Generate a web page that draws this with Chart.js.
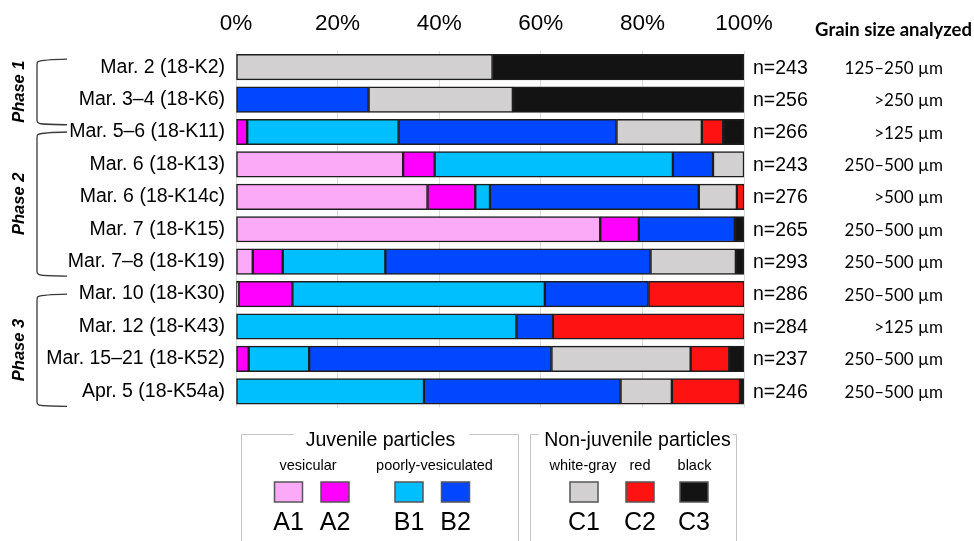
<!DOCTYPE html>
<html>
<head>
<meta charset="utf-8">
<script src="https://cdn.jsdelivr.net/npm/chart.js@4/dist/chart.umd.min.js"></script>
<style>
  html, body { margin: 0; padding: 0; background: #fff; }
  #wrap { width: 974px; height: 541px; }
</style>
</head>
<body>
<div id="wrap"><canvas id="c" width="974" height="541"></canvas></div>
<script>
// Samples (eruption dates and sample IDs)
const categories = [
  'Mar. 2 (18-K2)', 'Mar. 3–4 (18-K6)', 'Mar. 5–6 (18-K11)', 'Mar. 6 (18-K13)',
  'Mar. 6 (18-K14c)', 'Mar. 7 (18-K15)', 'Mar. 7–8 (18-K19)', 'Mar. 10 (18-K30)',
  'Mar. 12 (18-K43)', 'Mar. 15–21 (18-K52)', 'Apr. 5 (18-K54a)'
];
// Particle counts and analyzed size fraction per sample
const counts = [243, 256, 266, 243, 276, 265, 293, 286, 284, 237, 246];
const grainSizes = ['125–250 µm', '>250 µm', '>125 µm', '250–500 µm', '>500 µm', '250–500 µm',
  '250–500 µm', '250–500 µm', '>125 µm', '250–500 µm', '250–500 µm'];

// Component proportions (%)
const A1 = [0, 0, 0, 32.9, 37.7, 71.7, 3.3, 0.5, 0, 0, 0];
const A2 = [0, 0, 2.2, 6.2, 9.4, 7.6, 5.9, 10.6, 0, 2.5, 0];
const B1 = [0, 0, 29.8, 46.9, 2.9, 0, 20.2, 49.7, 55.2, 11.9, 37.0];
const B2 = [0, 26.1, 42.9, 7.9, 41.1, 18.9, 52.2, 20.4, 7.2, 47.7, 38.7];
const C1 = [50.5, 28.4, 16.8, 6.1, 7.5, 0, 16.8, 0, 0, 27.4, 10.1];
const C2 = [0, 0, 4.2, 0, 1.4, 0, 0, 18.8, 37.6, 7.6, 13.4];
const C3 = [49.5, 45.5, 4.1, 0, 0, 1.8, 1.6, 0, 0, 2.9, 0.8];

const xTicks = [0, 20, 40, 60, 80, 100];

// Eruption phases: first and last sample index of each
const phases = [
  { label: 'Phase 1', from: 0, to: 1 },
  { label: 'Phase 2', from: 2, to: 6 },
  { label: 'Phase 3', from: 7, to: 10 }
];

const seriesNames = ['A1', 'A2', 'B1', 'B2', 'C1', 'C2', 'C3'];
const seriesData = [A1, A2, B1, B2, C1, C2, C3];
const seriesColors = ['#fbaaf7', '#ff00ff', '#00bfff', '#0047ff', '#d2d0d0', '#ff1212', '#131313'];

const datasets = seriesNames.map((name, i) => ({
  label: name,
  data: seriesData[i].map(v => (v === 0 ? null : v)),
  backgroundColor: seriesColors[i],
  borderColor: '#1d1d1d',
  borderWidth: 1.5,
  borderSkipped: false,
  barThickness: 25.5
}));

const SANS = '"Liberation Sans", Arial, sans-serif';

const decorations = {
  id: 'decorations',
  afterDraw(chart) {
    const ctx = chart.ctx;
    const y = chart.scales.y;
    const area = chart.chartArea;
    const pitch = y.getPixelForValue(1) - y.getPixelForValue(0);
    ctx.save();

    // n = counts and grain size fraction
    categories.forEach((c, i) => {
      const py = y.getPixelForValue(i);
      ctx.fillStyle = '#000';
      ctx.textBaseline = 'middle';
      ctx.textAlign = 'left';
      ctx.font = '19.5px ' + SANS;
      ctx.fillText('n=' + counts[i], area.right + 9, py + 1);
      ctx.textAlign = 'right';
      ctx.font = '17px Lato, "Open Sans", sans-serif';
      ctx.fillText(grainSizes[i], 943, py + 1);
    });
    ctx.font = 'bold 18.5px Lato, "Open Sans", sans-serif';
    ctx.textAlign = 'right';
    ctx.textBaseline = 'middle';
    ctx.fillText('Grain size analyzed', 972, 30);

    // phase brackets
    ctx.strokeStyle = '#3a3a3a';
    ctx.lineWidth = 1.3;
    const bx = 37, ex = 67;
    phases.forEach((p, k) => {
      const top = k === 0 ? y.getPixelForValue(p.from) - 0.25 * pitch : y.getPixelForValue(p.from) - 0.0 * pitch;
      const bot = k === 0 ? y.getPixelForValue(p.to + 1) - 0.24 * pitch
        : (k === 1 ? y.getPixelForValue(p.to) + 0.43 * pitch : y.getPixelForValue(p.to) + 0.45 * pitch);
      ctx.beginPath();
      ctx.moveTo(ex, top);
      ctx.quadraticCurveTo(bx + 6, top + 0.5, bx + 1, top + 2.5);
      ctx.quadraticCurveTo(bx, top + 3, bx, top + 6);
      ctx.lineTo(bx, bot - 4);
      ctx.quadraticCurveTo(bx, bot - 1, bx + 4, bot - 0.5);
      ctx.quadraticCurveTo(bx + 8, bot, ex, bot + 0.5);
      ctx.stroke();

      ctx.save();
      ctx.translate(19, (top + bot) / 2);
      ctx.rotate(-Math.PI / 2);
      ctx.fillStyle = '#000';
      ctx.font = 'italic bold 16.5px ' + SANS;
      ctx.textAlign = 'center';
      ctx.textBaseline = 'middle';
      ctx.fillText(p.label, 0, 0);
      ctx.restore();
    });

    // legend panels
    const panels = [
      { title: 'Juvenile particles', x0: 241.5, x1: 518.5, tx: 380.5,
        groups: [{ text: 'vesicular', cx: 308 }, { text: 'poorly-vesiculated', cx: 434.5 }],
        items: [[0, 288.5], [1, 335], [2, 409], [3, 455.5]] },
      { title: 'Non-juvenile particles', x0: 530.5, x1: 736.5, tx: 637.5,
        groups: [{ text: 'white-gray', cx: 583 }, { text: 'red', cx: 640 }, { text: 'black', cx: 694.5 }],
        items: [[4, 584], [5, 640], [6, 694]] }
    ];
    const topY = 434.5;
    panels.forEach(pn => {
      ctx.font = '19.5px ' + SANS;
      const tw = ctx.measureText(pn.title).width;
      ctx.strokeStyle = '#c4c4c4';
      ctx.lineWidth = 1;
      ctx.beginPath();
      ctx.moveTo(pn.x0, 545);
      ctx.lineTo(pn.x0, topY);
      ctx.lineTo(Math.max(pn.x0 + 8, pn.tx - tw / 2 - 12), topY);
      ctx.moveTo(Math.min(pn.x1 - 4, pn.tx + tw / 2 + 14), topY);
      ctx.lineTo(pn.x1, topY);
      ctx.lineTo(pn.x1, 545);
      ctx.stroke();

      ctx.fillStyle = '#000';
      ctx.textAlign = 'center';
      ctx.textBaseline = 'middle';
      ctx.fillText(pn.title, pn.tx, 441);
      ctx.font = '14.5px ' + SANS;
      pn.groups.forEach(g => ctx.fillText(g.text, g.cx, 465.5));
      pn.items.forEach(([si, cx]) => {
        ctx.fillStyle = seriesColors[si];
        ctx.fillRect(cx - 14, 482, 28, 20);
        ctx.strokeStyle = '#555';
        ctx.lineWidth = 1.5;
        ctx.strokeRect(cx - 14, 482, 28, 20);
        ctx.fillStyle = '#000';
        ctx.font = '25px ' + SANS;
        ctx.fillText(seriesNames[si], cx, 523);
      });
    });
    ctx.restore();
  }
};

new Chart(document.getElementById('c'), {
  type: 'bar',
  data: { labels: categories, datasets },
  options: {
    indexAxis: 'y',
    responsive: false,
    animation: false,
    devicePixelRatio: 1,
    layout: { padding: { left: 0, right: 230, top: 0, bottom: 133.5 } },
    plugins: { legend: { display: false }, tooltip: { enabled: false } },
    scales: {
      x: {
        position: 'top',
        stacked: true,
        min: 0,
        max: 100,
        afterBuildTicks: s => { s.ticks = xTicks.map(v => ({ value: v })); },
        afterFit: s => { s.height = 51; },
        ticks: {
          callback: v => v + '%',
          color: '#000',
          padding: 14,
          font: { family: SANS, size: 22.5 }
        },
        grid: { color: '#dcdcdc', lineWidth: 1, drawTicks: false },
        border: { display: false }
      },
      y: {
        stacked: true,
        afterFit: s => { s.width = 236; },
        ticks: {
          color: '#000',
          padding: 11,
          font: { family: SANS, size: 19.5 }
        },
        grid: { display: false, drawTicks: false },
        border: { display: false }
      }
    }
  },
  plugins: [decorations]
});
</script>
</body>
</html>
